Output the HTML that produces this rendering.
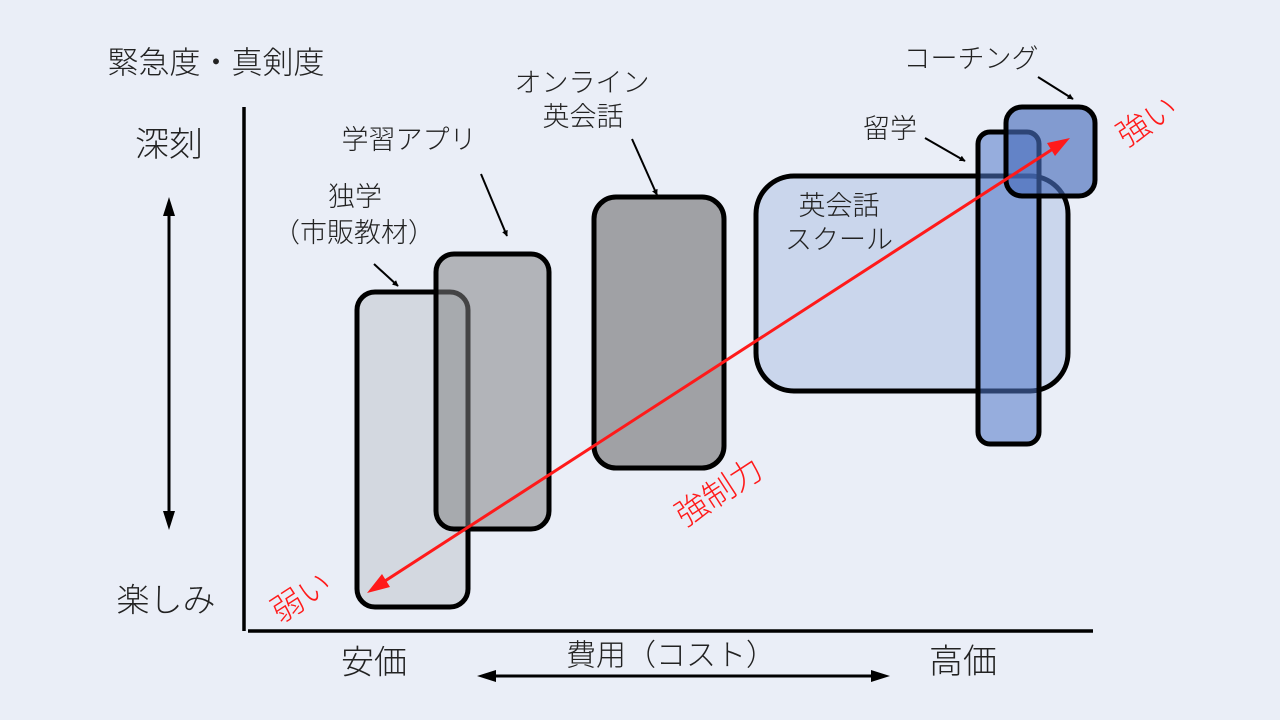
<!DOCTYPE html>
<html><head><meta charset="utf-8"><style>
html,body{margin:0;padding:0;background:#EAEEF7;}
svg{display:block;}
text{font-family:"Liberation Sans","Noto Sans CJK JP",sans-serif;fill:#222;font-weight:300;}
</style></head><body>
<svg width="1280" height="720" viewBox="0 0 1280 720" xmlns="http://www.w3.org/2000/svg">
<defs>
<marker id="ah" viewBox="0 0 10 10" refX="9" refY="5" markerWidth="6" markerHeight="6" orient="auto-start-reverse" markerUnits="userSpaceOnUse">
<path d="M0,0 L10,5 L0,10 Z" fill="#000"/>
</marker>
</defs>
<rect width="1280" height="720" fill="#EAEEF7"/>

<!-- axes -->
<line x1="244" y1="107" x2="244" y2="631" stroke="#000" stroke-width="3.5"/>
<line x1="248" y1="631" x2="1093" y2="631" stroke="#000" stroke-width="3.5"/>

<!-- vertical double arrow -->
<line x1="169" y1="212" x2="169" y2="515" stroke="#000" stroke-width="3"/>
<path d="M169,197 L163,216 L175,216 Z" fill="#000"/>
<path d="M169,530 L163,511 L175,511 Z" fill="#000"/>

<!-- horizontal double arrow -->
<line x1="492" y1="676" x2="875" y2="676" stroke="#000" stroke-width="3"/>
<path d="M477,676 L496,670 L496,682 Z" fill="#000"/>
<path d="M890,676 L871,670 L871,682 Z" fill="#000"/>

<!-- gray boxes -->
<rect x="357" y="292" width="111" height="315" rx="18" fill="#D3D8E0" stroke="#000" stroke-width="5"/>
<rect x="436" y="254" width="113" height="275" rx="18" fill="rgb(128,128,131)" fill-opacity="0.53" stroke="none"/>
<rect x="436" y="254" width="113" height="275" rx="18" fill="none" stroke="#000" stroke-width="5"/>
<rect x="594" y="197" width="130" height="271" rx="22" fill="#A0A1A5" stroke="#000" stroke-width="5"/>

<!-- blue boxes -->
<rect x="756" y="176" width="312" height="215" rx="38" fill="#CAD6EC" stroke="#000" stroke-width="5"/>
<rect x="978" y="132" width="61" height="312" rx="12" fill="rgb(80,120,200)" fill-opacity="0.55"/>
<rect x="978" y="132" width="61" height="312" rx="12" fill="none" stroke="#000" stroke-width="5"/>
<rect x="1006" y="107" width="89" height="89" rx="16" fill="rgb(70,108,186)" fill-opacity="0.64"/>
<rect x="1006" y="107" width="89" height="89" rx="16" fill="none" stroke="#000" stroke-width="5"/>

<!-- red double arrow -->
<line x1="378" y1="585.5" x2="1059" y2="145" stroke="#FF1A1A" stroke-width="3"/>
<path d="M1070,138 L1047,143 L1055,156 Z" fill="#FF1A1A"/>
<path d="M367,593 L382,574 L390,587 Z" fill="#FF1A1A"/>

<!-- annotation arrows -->
<line x1="374" y1="264" x2="398" y2="286" stroke="#000" stroke-width="2" marker-end="url(#ah)"/>
<line x1="481" y1="174" x2="507" y2="236" stroke="#000" stroke-width="2" marker-end="url(#ah)"/>
<line x1="632" y1="139" x2="657" y2="195" stroke="#000" stroke-width="2" marker-end="url(#ah)"/>
<line x1="925" y1="138" x2="965" y2="161" stroke="#000" stroke-width="2" marker-end="url(#ah)"/>
<line x1="1038" y1="77" x2="1073" y2="99" stroke="#000" stroke-width="2" marker-end="url(#ah)"/>

<!-- axis labels -->
<text x="216" y="63" font-size="31" text-anchor="middle" dominant-baseline="central">緊急度・真剣度</text>
<text x="169" y="145" font-size="34" text-anchor="middle" dominant-baseline="central">深刻</text>
<text x="166" y="600" font-size="33" text-anchor="middle" dominant-baseline="central">楽しみ</text>
<text x="374" y="662" font-size="33" text-anchor="middle" dominant-baseline="central">安価</text>
<text x="963" y="662" font-size="34" text-anchor="middle" dominant-baseline="central">高価</text>
<text x="671" y="656" font-size="30" text-anchor="middle" dominant-baseline="central">費用（コスト）</text>

<!-- box labels -->
<text x="355" y="197" font-size="27" text-anchor="middle" dominant-baseline="central">独学</text>
<text x="354" y="233" font-size="27" text-anchor="middle" dominant-baseline="central">（市販教材）</text>
<text x="409" y="140" font-size="27" text-anchor="middle" dominant-baseline="central">学習アプリ</text>
<text x="582" y="83" font-size="27" text-anchor="middle" dominant-baseline="central">オンライン</text>
<text x="583" y="117" font-size="27" text-anchor="middle" dominant-baseline="central">英会話</text>
<text x="839" y="206" font-size="27" text-anchor="middle" dominant-baseline="central">英会話</text>
<text x="839" y="240" font-size="27" text-anchor="middle" dominant-baseline="central">スクール</text>
<text x="890" y="129" font-size="27" text-anchor="middle" dominant-baseline="central">留学</text>
<text x="971" y="59" font-size="27" text-anchor="middle" dominant-baseline="central">コーチング</text>

<!-- red labels -->
<text x="0" y="0" font-size="32" text-anchor="middle" dominant-baseline="central" style="fill:#FF1A1A" transform="translate(301,597) rotate(-33)">弱い</text>
<text x="0" y="0" font-size="32" text-anchor="middle" dominant-baseline="central" style="fill:#FF1A1A" transform="translate(719,492) rotate(-33)">強制力</text>
<text x="0" y="0" font-size="32" text-anchor="middle" dominant-baseline="central" style="fill:#FF1A1A" transform="translate(1147,121) rotate(-33)">強い</text>
</svg>
</body></html>
